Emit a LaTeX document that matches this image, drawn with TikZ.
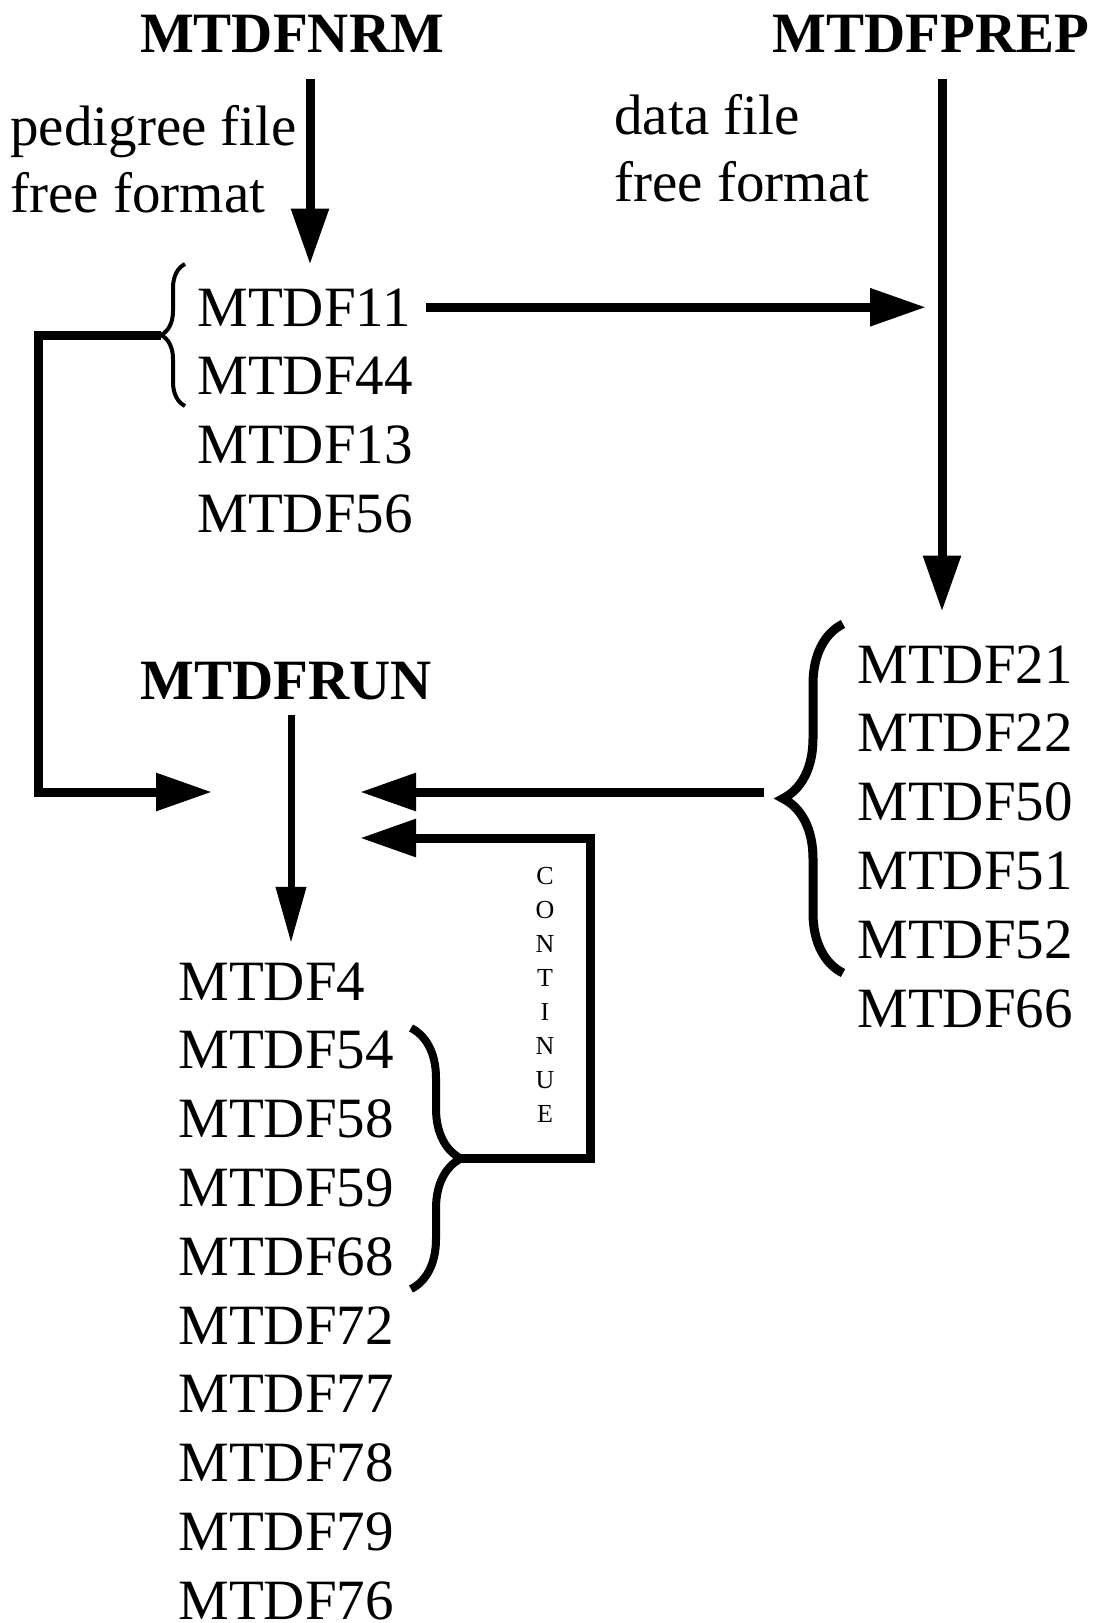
\documentclass[tikz,border=0pt]{standalone}
\usepackage{fontspec}
\setmainfont{Liberation Serif}
\usetikzlibrary{arrows.meta,decorations.pathreplacing}

\begin{document}
\begin{tikzpicture}[
    x=0.5pt, y=-0.5pt,
    title/.style={font=\fontsize{28.5}{34}\selectfont\bfseries, inner sep=0pt, anchor=base},
    item/.style={font=\fontsize{28.5}{34}\selectfont, inner sep=0pt, anchor=base west},
    flow/.style={line width=4.5pt, -{Triangle[length=28pt, width=18pt]}},
    thinflow/.style={line width=3.5pt, -{Triangle[length=28pt, width=14.5pt]}},
    curly/.style={decorate, decoration={brace, amplitude=#1}}
  ]
  \useasboundingbox (0,0) rectangle (1097,1623);

  % programs
  \node[title] (nrm) at (292,52) {MTDFNRM};
  \node[title] (prep) at (931,52) {MTDFPREP};
  \node[title] (run) at (286,699) {MTDFRUN};

  % input notes
  \node[item] (ped1) at (10,145) {pedigree file};
  \node[item] (ped2) at (10,212) {free format};
  \node[item] (dat1) at (614,134) {data file};
  \node[item] (dat2) at (614,201) {free format};

  % file lists
  \foreach \n [count=\i from 0] in {11,44,13,56}
    \node[item] (m\n) at (197,{326+68.8*\i}) {MTDF\n};
  \foreach \n [count=\i from 0] in {21,22,50,51,52,66}
    \node[item] (m\n) at (857,{683+68.8*\i}) {MTDF\n};
  \foreach \n [count=\i from 0] in {4,54,58,59,68,72,77,78,79,76}
    \node[item] (m\n) at (178,{1000+68.8*\i}) {MTDF\n};

  % braces
  \draw[curly=12pt, line width=2pt] (185,406) -- (185,264);
  \coordinate (tipA) at (161,335);
  \draw[curly=30pt, line width=4.5pt] (843,973) -- (843,624);
  \coordinate (tipB) at (783,798);
  \draw[curly=25pt, line width=4pt] (411,1028) -- (411,1289);
  \coordinate (tipC) at (461,1158);

  % free ends at MTDFRUN
  \coordinate (inL) at (212,792);
  \coordinate (inR) at (360,792);
  \coordinate (inC) at (360,838);

  % connectors
  \draw[flow] ([shift={(18,26)}]nrm.south) -- ++(0,186);
  \draw[flow] ([shift={(11,26)}]prep.south) coordinate (prepA) -- ++(0,533);
  \draw[flow] ([xshift=7.5pt]m11.east) -- ([xshift=-8pt]prepA |- m11.east);
  \draw[flow] (tipA) -- ++(-123,0) |- (inL);
  \draw[flow] ([xshift=-9.5pt]tipB |- inR) -- (inR);
  \draw[thinflow] ([shift={(5,15)}]run.south) -- ++(0,228);
  \draw[flow] (tipC) -- ++(129,0) |- (inC);
  \node[font=\fontsize{13}{17}\selectfont, align=center, inner sep=0pt] (cont) at (545,995)
    {C\\O\\N\\T\\I\\N\\U\\E};
\end{tikzpicture}
\end{document}
